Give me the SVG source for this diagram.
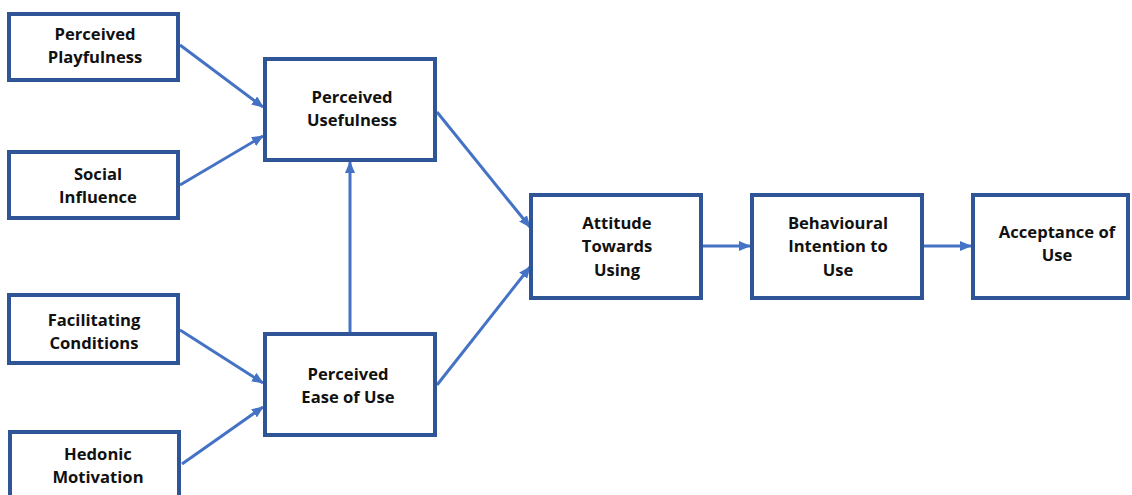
<svg xmlns="http://www.w3.org/2000/svg" width="1132" height="495" viewBox="0 0 1132 495">
  <style>
    .box { fill: #ffffff; stroke: #2f5597; stroke-width: 4; }
    .lbl { font-family: "Open Sans", "Liberation Sans", sans-serif; font-weight: 700; font-size: 16.6px; fill: #111111; text-anchor: middle; }
    .link { stroke: #4472c4; stroke-width: 3; fill: none; marker-end: url(#arrow); }
  </style>
  <defs>
    <marker id="arrow" markerUnits="userSpaceOnUse" markerWidth="12" markerHeight="10" refX="11" refY="5" orient="auto">
      <path d="M0,0 L12,5 L0,10 Z" fill="#4472c4"/>
    </marker>
  </defs>
  <rect width="1132" height="495" fill="#ffffff"/>

  <g id="connectors">
    <line class="link" x1="180" y1="45" x2="263" y2="107"/>
    <line class="link" x1="180" y1="185" x2="263" y2="136"/>
    <line class="link" x1="180" y1="330" x2="263" y2="383"/>
    <line class="link" x1="182" y1="464" x2="263" y2="407"/>
    <line class="link" x1="350" y1="333" x2="350" y2="162"/>
    <line class="link" x1="437" y1="112" x2="530" y2="227"/>
    <line class="link" x1="437" y1="385" x2="530" y2="267"/>
    <line class="link" x1="703" y1="246" x2="750" y2="246"/>
    <line class="link" x1="924" y1="246" x2="971" y2="246"/>
  </g>

  <g id="perceived-playfulness">
    <rect class="box" x="9" y="14" width="169" height="66"/>
    <text class="lbl" x="95" y="40">Perceived</text>
    <text class="lbl" x="95" y="63">Playfulness</text>
  </g>
  <g id="social-influence">
    <rect class="box" x="9" y="152" width="169" height="66"/>
    <text class="lbl" x="98" y="180">Social</text>
    <text class="lbl" x="98" y="203">Influence</text>
  </g>
  <g id="perceived-usefulness">
    <rect class="box" x="265" y="59" width="170" height="101"/>
    <text class="lbl" x="352" y="103">Perceived</text>
    <text class="lbl" x="352" y="126">Usefulness</text>
  </g>
  <g id="facilitating-conditions">
    <rect class="box" x="9" y="295" width="169" height="68"/>
    <text class="lbl" x="94" y="326">Facilitating</text>
    <text class="lbl" x="94" y="349">Conditions</text>
  </g>
  <g id="hedonic-motivation">
    <rect class="box" x="10" y="432" width="169" height="70"/>
    <text class="lbl" x="98" y="460">Hedonic</text>
    <text class="lbl" x="98" y="483">Motivation</text>
  </g>
  <g id="perceived-ease-of-use">
    <rect class="box" x="265" y="334" width="170" height="101"/>
    <text class="lbl" x="348" y="380">Perceived</text>
    <text class="lbl" x="348" y="403">Ease of Use</text>
  </g>
  <g id="attitude-towards-using">
    <rect class="box" x="531" y="195" width="170" height="103"/>
    <text class="lbl" x="617" y="229">Attitude</text>
    <text class="lbl" x="617" y="252">Towards</text>
    <text class="lbl" x="617" y="276">Using</text>
  </g>
  <g id="behavioural-intention">
    <rect class="box" x="752" y="195" width="170" height="103"/>
    <text class="lbl" x="838" y="229">Behavioural</text>
    <text class="lbl" x="838" y="252">Intention to</text>
    <text class="lbl" x="838" y="276">Use</text>
  </g>
  <g id="acceptance-of-use">
    <rect class="box" x="973" y="195" width="155" height="103"/>
    <text class="lbl" x="1057" y="238">Acceptance of</text>
    <text class="lbl" x="1057" y="261">Use</text>
  </g>
</svg>
